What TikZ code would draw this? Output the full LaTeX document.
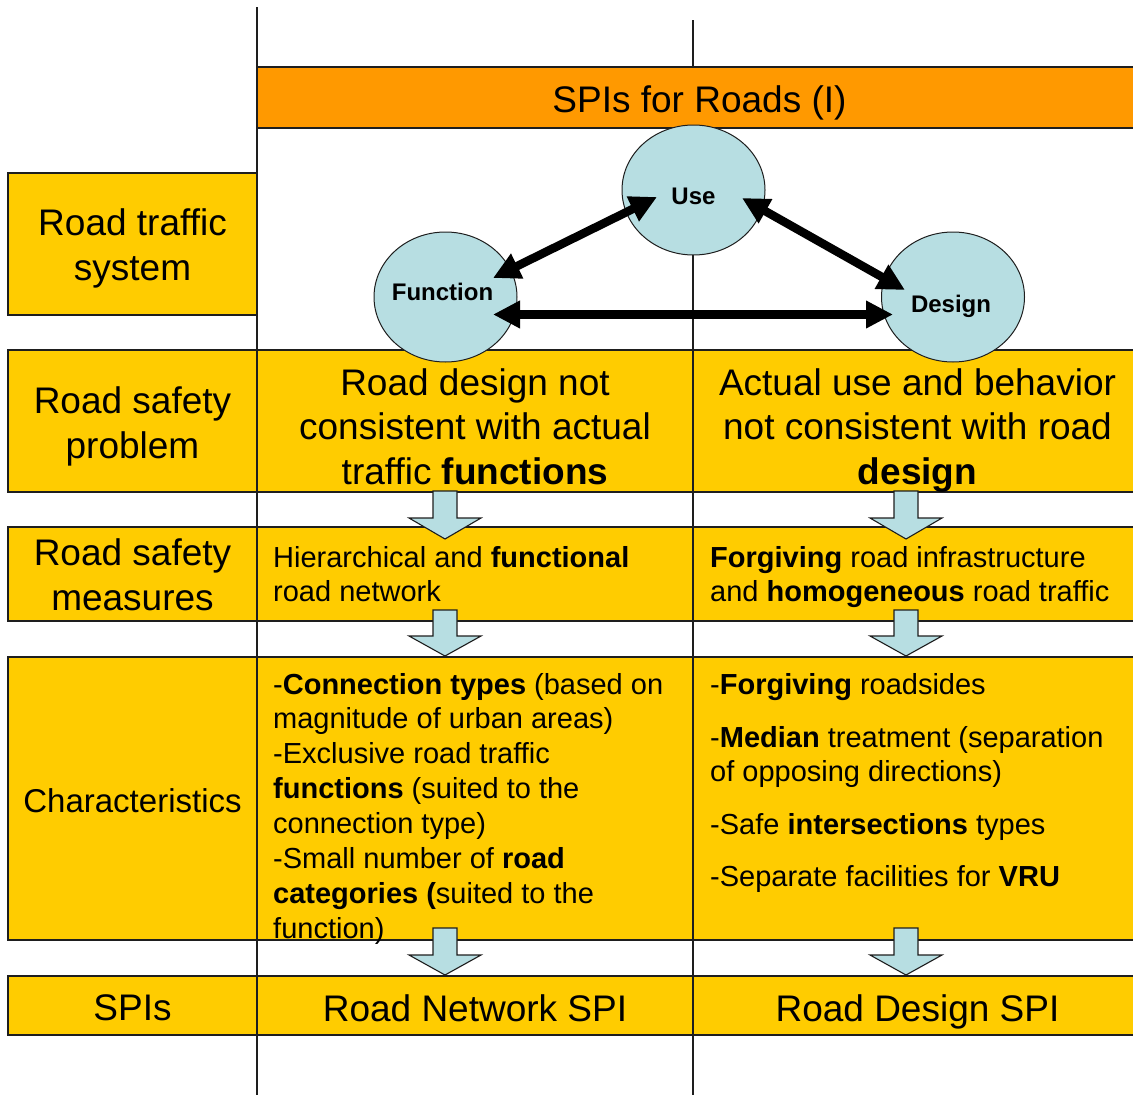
\documentclass[tikz,border=0pt]{standalone}
\usepackage{fontspec}
\setmainfont{Liberation Sans}
\usetikzlibrary{arrows.meta,shapes.geometric}
\definecolor{ybox}{RGB}{255,204,0}
\definecolor{obox}{RGB}{255,153,0}
\definecolor{lblue}{RGB}{183,222,226}
\definecolor{edge}{RGB}{30,30,30}
\newcommand\CLines[1]{\vtop{\halign{\hfil##\hfil\cr#1\crcr}}}
\newcommand\LLines[1]{\vtop{\halign{##\hfil\cr#1\crcr}}}
\newcommand\fs[2]{\fontsize{#1}{#2}\selectfont}
\newcommand\blockarrow[4]{\draw[barr] (#1-12,#2) -- (#1+12,#2) -- (#1+12,#3) -- (#1+36,#3) -- (#1,#4) -- (#1-36,#3) -- (#1-12,#3) -- cycle;}
\begin{document}
\begin{tikzpicture}[x=1pt,y=-1pt,
  cell/.style={fill=ybox,draw=edge,line width=1.2pt},
  titlecell/.style={fill=obox,draw=edge,line width=1.2pt},
  vline/.style={draw=edge,line width=1.2pt},
  barr/.style={fill=lblue,draw=edge,line width=1.1pt,line join=miter},
  circ/.style={ellipse,draw=edge,line width=1pt,fill=lblue,minimum width=143pt,minimum height=130pt,inner sep=0pt},
  ctext/.style={inner sep=0pt,font=\fs{24}{28}\bfseries},
  txt/.style={inner sep=0pt,text=black},
  bigarr/.style={line width=8.5pt,{Triangle[length=27pt,width=26pt]}-{Triangle[length=27pt,width=26pt]}}
]
\useasboundingbox (0,0) rectangle (1133,1095);
\clip (0,0) rectangle (1133,1095);

% vertical guide lines
\draw[vline] (257,7) -- (257,1095);
\draw[vline] (693,20) -- (693,1095);

% title bar
\draw[titlecell] (257,67) rectangle (1142,128);

% rows
\draw[cell] (8,173) rectangle (257,315);
\draw[cell] (8,350) rectangle (257,492);
\draw[cell] (257,350) rectangle (693,492);
\draw[cell] (693,350) rectangle (1142,492);
\draw[cell] (8,527) rectangle (257,621);
\draw[cell] (257,527) rectangle (693,621);
\draw[cell] (693,527) rectangle (1142,621);
\draw[cell] (8,657) rectangle (257,940);
\draw[cell] (257,657) rectangle (693,940);
\draw[cell] (693,657) rectangle (1142,940);
\draw[cell] (8,976) rectangle (257,1035);
\draw[cell] (257,976) rectangle (693,1035);
\draw[cell] (693,976) rectangle (1142,1035);

% block arrows
\blockarrow{445}{491}{518}{539}
\blockarrow{906}{491}{518}{539}
\blockarrow{445}{610}{636}{656}
\blockarrow{906}{610}{636}{656}
\blockarrow{445}{928}{955}{975}
\blockarrow{906}{928}{955}{975}

% circles
\node[circ] (use) at (693.5,190) {};
\node[circ] (fun) at (445.5,297) {};
\node[circ] (des) at (953,297) {};
\node[ctext,anchor=base] (uset) at (693.5,204) {Use};
\node[ctext,anchor=base] (funt) at (442.5,300) {Function};
\node[ctext,anchor=base] (dest) at (951,312) {Design};

% texts
\node[txt,anchor=base] (title) at (699.5,112) {\fs{37}{44}SPIs for Roads (I)};
\node[txt,anchor=base] (lsys) at (132.5,235) {\fs{37}{45}\CLines{Road traffic\cr system}};
\node[txt,anchor=base] (lprob) at (132.5,413) {\fs{37}{45}\CLines{Road safety\cr problem}};
\node[txt,anchor=base] (lmeas) at (132.5,565) {\fs{37}{45}\CLines{Road safety\cr measures}};
\node[txt,anchor=base] (lchar) at (132.5,812) {\fs{33}{40}Characteristics};
\node[txt,anchor=base] (lspi) at (132.5,1020) {\fs{37}{44}SPIs};

\node[txt,anchor=base] (prob1) at (475,395) {\fs{37}{44.5}\CLines{Road design not\cr consistent with actual\cr traffic \textbf{functions}}};
\node[txt,anchor=base] (prob2) at (917.5,395) {\fs{37}{44.5}\CLines{Actual use and behavior\cr not consistent with road\cr \textbf{design}}};

\node[txt,anchor=base west] (meas1) at (273,567) {\fs{29}{34.5}\LLines{Hierarchical and \textbf{functional}\cr road network}};
\node[txt,anchor=base west] (meas2) at (710,567) {\fs{29}{34.5}\LLines{\textbf{Forgiving} road infrastructure\cr and \textbf{homogeneous} road traffic}};

\node[txt,anchor=base west] (char1) at (273,694) {\fs{29}{34.9}\LLines{-\textbf{Connection types} (based on\cr magnitude of urban areas)\cr -Exclusive road traffic\cr \textbf{functions} (suited to the\cr connection type)\cr -Small number of \textbf{road}\cr \textbf{categories (}suited to the\cr function)}};
\node[txt,anchor=base west] (char2) at (710,694) {\fs{29}{34.5}\LLines{-\textbf{Forgiving} roadsides\cr\noalign{\vskip18.5pt}-\textbf{Median} treatment (separation\cr of opposing directions)\cr\noalign{\vskip18.5pt}-Safe \textbf{intersections} types\cr\noalign{\vskip17.5pt}-Separate facilities for \textbf{VRU}}};

\node[txt,anchor=base] (spi1) at (475,1021) {\fs{37}{44}Road Network SPI};
\node[txt,anchor=base] (spi2) at (917.5,1021) {\fs{37}{44}Road Design SPI};

% relation arrows
\coordinate (fuA) at (493,278);
\coordinate (fuB) at (657,197);
\coordinate (udA) at (742,198);
\coordinate (udB) at (905,290);
\coordinate (fdA) at (493,314.5);
\coordinate (fdB) at (893,314.5);
\draw[bigarr] (fuA) -- (fuB);
\draw[bigarr] (udA) -- (udB);
\draw[bigarr] (fdA) -- (fdB);
\end{tikzpicture}
\end{document}
